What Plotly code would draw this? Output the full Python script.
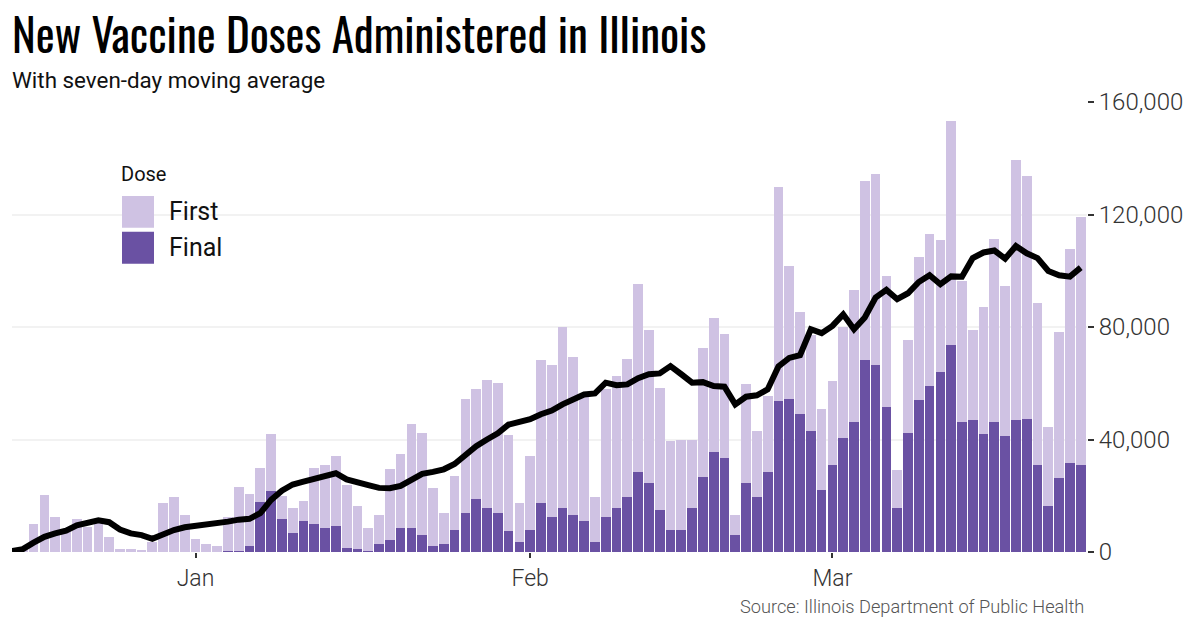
import pandas as pd
import plotly.graph_objects as go

start_date = "2020-12-15"
n_days = 100
dates = pd.date_range(start_date, periods=n_days, freq="D")

# First doses (light segment, stacked on top of final doses), in thousands
first_k = [0, 0.4, 9.8, 20.1, 12.4, 8.0, 11.9, 8.8, 11.5, 5.2,
           0.9, 0.9, 0.6, 3.5, 17.3, 19.4, 13.3, 4.8, 3.0, 2.0,
           12.1, 22.7, 18.4, 12.0, 20.2, 8.4, 8.6, 7.2, 19.6, 22.7,
           24.9, 22.4, 15.6, 8.5, 10.3, 25.3, 26.6, 37.0, 36.3, 20.6,
           11.3, 19.2, 40.3, 39.1, 45.2, 46.3, 34.2, 13.6, 26.6, 50.8,
           53.8, 64.1, 56.2, 43.8, 15.7, 45.7, 46.7, 49.1, 66.9, 54.1,
           43.4, 31.6, 32.0, 24.2, 45.9, 47.7, 44.1, 7.1, 35.2, 23.5,
           26.7, 76.1, 47.3, 36.3, 33.8, 28.8, 29.9, 39.3, 46.7, 63.7,
           67.9, 46.6, 13.5, 33.1, 50.9, 54.1, 46.9, 79.7, 50.2, 32.0,
           45.2, 64.8, 53.4, 92.5, 86.4, 57.6, 27.8, 51.9, 76.1, 87.9]

# Final doses (dark segment), in thousands
final_k = [0, 0, 0, 0, 0, 0, 0, 0, 0, 0,
           0, 0, 0, 0, 0, 0, 0, 0, 0, 0,
           0.2, 0.3, 2.1, 17.7, 21.6, 11.6, 6.9, 10.9, 10.1, 8.4,
           9.4, 1.6, 0.9, 0.2, 2.7, 4.1, 8.4, 8.4, 5.9, 2.0,
           2.7, 7.7, 14.0, 18.7, 15.8, 13.7, 7.3, 3.7, 7.7, 17.3,
           12.6, 15.8, 13.0, 11.2, 3.7, 12.3, 15.8, 19.4, 28.3, 24.7,
           14.8, 7.7, 8.0, 15.5, 26.5, 35.4, 33.3, 5.9, 24.4, 19.4,
           28.6, 53.6, 54.3, 48.9, 43.2, 21.9, 30.8, 40.7, 46.4, 68.1,
           66.4, 51.4, 15.5, 42.2, 53.9, 58.9, 63.9, 73.5, 46.1, 46.8,
           41.8, 46.4, 41.1, 46.8, 47.2, 30.8, 16.5, 26.2, 31.5, 31.1]

# Seven-day moving average of all doses, in thousands
avg_k = [0.3, 1.0, 3.3, 5.4, 6.6, 7.6, 9.5, 10.5, 11.3, 10.6,
         8.0, 6.6, 6.0, 4.7, 6.4, 7.8, 8.8, 9.3, 9.6, 9.8,
         10.8, 11.5, 11.8, 13.8, 18.5, 21.8, 24.0, 25.0, 26.0, 27.5,
         28.0, 25.8, 24.6, 23.8, 22.8, 22.7, 23.5, 25.5, 27.8, 28.5,
         29.4, 31.3, 34.4, 37.6, 40.0, 42.2, 45.3, 46.2, 47.2, 49.0,
         50.3, 52.5, 54.0, 56.0, 56.4, 60.2, 59.3, 59.6, 61.8, 63.2,
         63.5, 66.1, 63.2, 60.2, 60.4, 59.0, 58.8, 52.5, 55.2, 55.7,
         57.8, 66.0, 69.0, 70.0, 79.2, 77.8, 80.4, 84.5, 79.2, 83.4,
         90.5, 93.2, 89.9, 92.0, 96.0, 98.4, 95.2, 98.0, 97.9, 104.5,
         106.5, 107.2, 104.3, 108.8, 106.2, 104.5, 99.9, 98.4, 97.9, 101.1]

first = [v * 1000 for v in first_k]
final = [v * 1000 for v in final_k]
avg = [v * 1000 for v in avg_k]

series_names = ["First", "Final"]
y_ticks = [0, 40000, 80000, 120000, 160000]

FIRST_COLOR = "#cfc2e3"
FINAL_COLOR = "#6a51a3"
LABEL_FONT = "Roboto, 'Noto Sans', sans-serif"

fig = go.Figure()
fig.add_trace(go.Bar(x=dates, y=final, name="Final", marker_color=FINAL_COLOR,
                     marker_line_width=0, showlegend=False))
fig.add_trace(go.Bar(x=dates, y=first, name="First", marker_color=FIRST_COLOR,
                     marker_line_width=0, showlegend=False))
fig.add_trace(go.Scatter(x=dates, y=avg, mode="lines", name="7-day average",
                         line=dict(color="black", width=6), showlegend=False))

L, R, T, B = 12, 113, 102, 75.5
W, H = 1200, 628
pw, ph = W - L - R, H - T - B

def px(x):
    return (x - L) / pw

def py(y):
    return (H - B - y) / ph

fig.update_layout(
    width=W, height=H,
    margin=dict(l=L, r=R, t=T, b=B),
    barmode="stack", bargap=0.1,
    plot_bgcolor="white", paper_bgcolor="white",
    font=dict(family=LABEL_FONT, color="#333"),
    xaxis=dict(
        type="date",
        range=["2020-12-15", "2021-03-24 14:00"],
        dtick="M1", tick0="2021-01-01", tickformat="%b",
        ticks="outside", ticklen=5, tickwidth=2, tickcolor="#333",
        tickfont=dict(size=23, color="#333", family=LABEL_FONT, weight=300),
        showgrid=False, zeroline=False, showline=False,
    ),
    yaxis=dict(
        side="right", range=[0, 160000],
        tickvals=y_ticks, ticktext=[f"{v:,}" for v in y_ticks],
        ticks="outside", ticklen=6, tickwidth=2, tickcolor="#333",
        tickfont=dict(size=24, color="#333", family=LABEL_FONT, weight=300),
        showgrid=True, gridcolor="#f2f2f2", gridwidth=2,
        zeroline=False, showline=False,
    ),
)

def note(text, x, y, size, color="#111", anchor="left", family=LABEL_FONT, weight=400):
    return dict(text=text, x=px(x), y=py(y), xref="paper", yref="paper",
                xanchor=anchor, yanchor="middle", showarrow=False,
                font=dict(size=size, color=color, family=family, weight=weight))

annotations = [
    note("New Vaccine Doses Administered in Illinois", 10, 32.5, 45, "black",
         family="Oswald, 'Liberation Sans Narrow', 'DejaVu Sans Condensed', sans-serif"),
    note("With seven-day moving average", 10, 80, 22.4),
    note("Source: Illinois Department of Public Health", 1086, 607, 18.2, "#555", "right",
         weight=300),
    note("Dose", 119, 174, 20),
]
shapes = []
legend_colors = [FIRST_COLOR, FINAL_COLOR]
for k, (name, col) in enumerate(zip(series_names, legend_colors)):
    y0 = 196 + k * 36
    shapes.append(dict(type="rect", xref="paper", yref="paper",
                       x0=px(122), x1=px(154), y0=py(y0), y1=py(y0 + 32),
                       fillcolor=col, line=dict(width=0)))
    annotations.append(note(name, 167, y0 + 16, 25))

fig.update_layout(annotations=annotations, shapes=shapes)
fig.write_html("out.html", config={"displayModeBar": False},
               post_script="document.body.style.margin='0';")
